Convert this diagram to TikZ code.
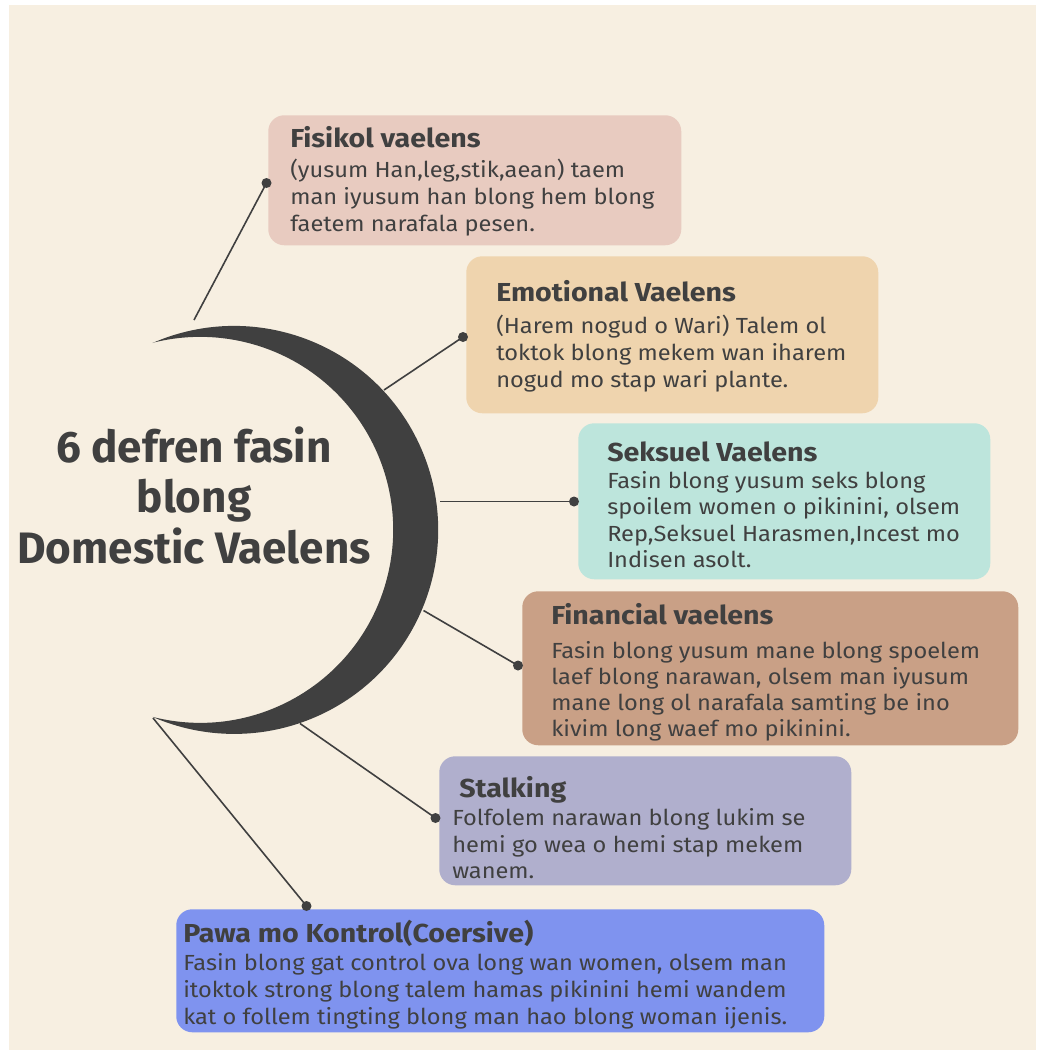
\documentclass[tikz,border=0pt]{standalone}
\usepackage{fontspec}
\setmainfont{Fira Sans}
\newfontfamily\bodyfam[FakeStretch=1.08]{Fira Sans}
\newfontfamily\titlefam[FakeStretch=1.10]{Fira Sans}
\definecolor{bg}{HTML}{F7EFE1}
\definecolor{ink}{HTML}{404040}
\definecolor{cA}{HTML}{E8CBC0}
\definecolor{cB}{HTML}{EFD4AE}
\definecolor{cC}{HTML}{BDE5DC}
\definecolor{cD}{HTML}{C9A086}
\definecolor{cE}{HTML}{B0AFCD}
\definecolor{cF}{HTML}{7F93EF}
\newcommand\bodyf{\bodyfam\fontsize{16.4}{19}\selectfont}
\newcommand\titlef{\titlefam\fontsize{19.5}{22}\selectfont\bfseries}
\newcommand\bigf{\fontsize{33}{38}\selectfont\bfseries}
\begin{document}
\begin{tikzpicture}[x=0.75pt,y=-0.75pt,
  card/.style={draw=none, rounded corners=12pt, anchor=north west, inner sep=0pt},
  ttl/.style={anchor=base west, inner sep=0pt, text=ink, font=\titlef},
  bdy/.style={anchor=base west, inner sep=0pt, text=ink, font=\bodyf},
  dot/.style={circle, fill=ink, inner sep=0pt, minimum size=7.5pt},
  conn/.style={draw=ink, line width=1.2pt}]
\useasboundingbox (0,0) rectangle (1036,1050);
\fill[white] (0,0) rectangle (1036,1050);
\fill[bg] (9,5) rectangle (1036,1050);
% crescent
\fill[ink] (152.5,343) arc[start angle=-113.6, end angle=113.6, radius=204]
  arc[start angle=104.3, end angle=-104.3, radius=193] -- cycle;
% centre title
\node[anchor=base, inner sep=0pt, text=ink, font=\bigf] (h1) at (194,462) {6 defren fasin};
\node[anchor=base, inner sep=0pt, text=ink, font=\bigf] (h2) at (194,512) {blong};
\node[anchor=base, inner sep=0pt, text=ink, font=\bigf] (h3) at (194,563) {Domestic Vaelens};
% cards
\node[card, fill=cA, minimum width=413*0.75pt, minimum height=130*0.75pt] (bA) at (268,115) {};
\node[card, fill=cB, minimum width=412*0.75pt, minimum height=157*0.75pt] (bB) at (466,256) {};
\node[card, fill=cC, minimum width=412*0.75pt, minimum height=156*0.75pt] (bC) at (578,423) {};
\node[card, fill=cD, minimum width=496*0.75pt, minimum height=154*0.75pt] (bD) at (522,591) {};
\node[card, fill=cE, minimum width=412*0.75pt, minimum height=129*0.75pt] (bE) at (439,756) {};
\node[card, fill=cF, minimum width=648*0.75pt, minimum height=123*0.75pt] (bF) at (176,909) {};
% texts A
\node[ttl] (tA) at (290,147) {Fisikol vaelens};
\node[bdy] (tA1) at (290,177) {(yusum Han,leg,stik,aean) taem};
\node[bdy] (tA2) at (290,204) {man iyusum han blong hem blong};
\node[bdy] (tA3) at (290,231) {faetem narafala pesen.};
% texts B
\node[ttl] (tB) at (496,301) {Emotional Vaelens};
\node[bdy] (tB1) at (496,333) {(Harem nogud o Wari) Talem ol};
\node[bdy] (tB2) at (496,360.5) {toktok blong mekem wan iharem};
\node[bdy] (tB3) at (496,387.5) {nogud mo stap wari plante.};
% texts C
\node[ttl] (tC) at (607,461) {Seksuel Vaelens};
\node[bdy] (tC1) at (607,488) {Fasin blong yusum seks blong};
\node[bdy] (tC2) at (607,514.5) {spoilem women o pikinini, olsem};
\node[bdy] (tC3) at (607,541) {Rep,Seksuel Harasmen,Incest mo};
\node[bdy] (tC4) at (607,567.5) {Indisen asolt.};
% texts D
\node[ttl] (tD) at (551,624) {Financial vaelens};
\node[bdy] (tD1) at (551,658) {Fasin blong yusum mane blong spoelem};
\node[bdy] (tD2) at (551,684) {laef blong narawan, olsem man iyusum};
\node[bdy] (tD3) at (551,710) {mane long ol narafala samting be ino};
\node[bdy] (tD4) at (551,736) {kivim long waef mo pikinini.};
% texts E
\node[ttl] (tE) at (459,797) {Stalking};
\node[bdy] (tE1) at (452,825) {Folfolem narawan blong lukim se};
\node[bdy] (tE2) at (452,852.5) {hemi go wea o hemi stap mekem};
\node[bdy] (tE3) at (452,878.5) {wanem.};
% texts F
\node[ttl] (tF) at (183,942) {Pawa mo Kontrol(Coersive)};
\node[bdy] (tF1) at (183,970) {Fasin blong gat control ova long wan women, olsem man};
\node[bdy] (tF2) at (183,997) {itoktok strong blong talem hamas pikinini hemi wandem};
\node[bdy] (tF3) at (183,1024) {kat o follem tingting blong man hao blong woman ijenis.};
% connector ends
\coordinate (sA) at (194,320);
\coordinate (sB) at (384,390);
\coordinate (sC) at (440,501.5);
\coordinate (sD) at (423.5,610.5);
\coordinate (sE) at (300,723.5);
\coordinate (sF) at (153,718);
\node[dot] (dA) at (266.5,183) {};
\node[dot] (dB) at (463,337) {};
\node[dot] (dC) at (574,501.5) {};
\node[dot] (dD) at (518,665.5) {};
\node[dot] (dE) at (435.5,818) {};
\node[dot] (dF) at (306.5,906) {};
\draw[conn] (sA) -- (dA.center);
\draw[conn] (sB) -- (dB.center);
\draw[conn] (sC) -- (dC.center);
\draw[conn] (sD) -- (dD.center);
\draw[conn] (sE) -- (dE.center);
\draw[conn] (sF) -- (dF.center);
\end{tikzpicture}
\end{document}
